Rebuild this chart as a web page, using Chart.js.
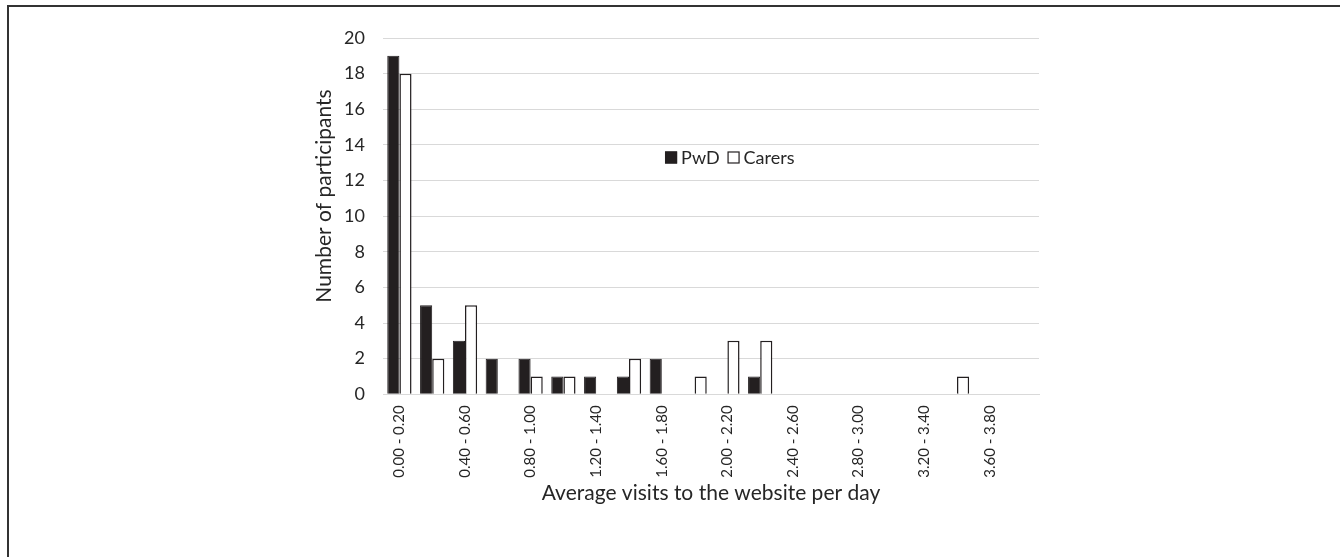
<!DOCTYPE html>
<html lang="en">
<head>
    <meta charset="UTF-8">
    <title>Average visits to the website per day</title>
    <script src="https://cdn.jsdelivr.net/npm/chart.js"></script>
    <style>
        body {
            margin: 0;
            background: #fff;
            overflow: hidden;
        }
        #frame {
            position: absolute;
            left: 7px;
            top: 5px;
            width: 1400px;
            height: 600px;
            border-top: 2px solid #333;
            border-left: 2px solid #333;
        }
        #wrap {
            position: absolute;
            left: 0;
            top: 0;
            width: 1340px;
            height: 557px;
        }
    </style>
</head>
<body>
    <div id="frame"></div>
    <div id="wrap"><canvas id="visitsChart" width="1340" height="557"></canvas></div>

    <script>
        const binLabels = ['0.00 - 0.20', '0.20 - 0.40', '0.40 - 0.60', '0.60 - 0.80', '0.80 - 1.00',
                           '1.00 - 1.20', '1.20 - 1.40', '1.40 - 1.60', '1.60 - 1.80', '1.80 - 2.00',
                           '2.00 - 2.20', '2.20 - 2.40', '2.40 - 2.60', '2.60 - 2.80', '2.80 - 3.00',
                           '3.00 - 3.20', '3.20 - 3.40', '3.40 - 3.60', '3.60 - 3.80', '3.80 - 4.00'];
        const pwdCounts    = [19, 5, 3, 2, 2, 1, 1, 1, 2, 0, 0, 1, 0, 0, 0, 0, 0, 0, 0, 0];
        const carerCounts  = [18, 2, 5, 0, 1, 1, 0, 2, 0, 1, 3, 3, 0, 0, 0, 0, 0, 1, 0, 0];
        const yTicks = [0, 2, 4, 6, 8, 10, 12, 14, 16, 18, 20];
        const yTitle = 'Number of participants';

        const fontFamily = 'Lato, "Open Sans", sans-serif';
        const textColor = '#262626';

        // legend sits inside the plot area, like the original spreadsheet chart
        const innerLegend = {
            id: 'innerLegend',
            afterDraw(chart) {
                const ctx = chart.ctx;
                const area = chart.chartArea;
                let x = area.left + (area.right - area.left) * 0.43;
                const y = area.top + (area.bottom - area.top) * 0.334;
                ctx.save();
                ctx.font = '18px ' + fontFamily;
                ctx.textBaseline = 'middle';
                chart.data.datasets.forEach(ds => {
                    ctx.fillStyle = ds.backgroundColor;
                    ctx.strokeStyle = ds.borderColor;
                    ctx.lineWidth = 1.2;
                    ctx.fillRect(x, y - 5.5, 12, 12);
                    ctx.strokeRect(x + 0.5, y - 5, 11, 11);
                    ctx.fillStyle = textColor;
                    ctx.fillText(ds.label, x + 16, y + 1);
                    x += 16 + ctx.measureText(ds.label).width + 8;
                });
                ctx.restore();
            }
        };

        // y title drawn by hand: the original sits a little above the plot's middle
        const yAxisTitle = {
            id: 'yAxisTitle',
            afterDraw(chart) {
                const ctx = chart.ctx;
                ctx.save();
                ctx.translate(324, 196);
                ctx.rotate(-Math.PI / 2);
                ctx.font = '21px ' + fontFamily;
                ctx.fillStyle = textColor;
                ctx.textAlign = 'center';
                ctx.textBaseline = 'middle';
                ctx.fillText(yTitle, 0, 0);
                ctx.restore();
            }
        };

        const ctx = document.getElementById('visitsChart').getContext('2d');
        new Chart(ctx, {
            type: 'bar',
            data: {
                labels: binLabels,
                datasets: [
                    {
                        label: 'PwD',
                        data: pwdCounts,
                        backgroundColor: '#231f20',
                        borderColor: '#231f20',
                        borderWidth: 1
                    },
                    {
                        label: 'Carers',
                        data: carerCounts,
                        backgroundColor: '#ffffff',
                        borderColor: '#231f20',
                        borderWidth: 1.5
                    }
                ]
            },
            options: {
                responsive: false,
                animation: false,
                layout: {
                    padding: { left: 313, right: 301, top: 38, bottom: 47 }
                },
                datasets: {
                    bar: {
                        barPercentage: 1,
                        categoryPercentage: 0.74
                    }
                },
                plugins: {
                    legend: { display: false },
                    tooltip: { enabled: false }
                },
                scales: {
                    x: {
                        grid: { display: false },
                        border: { color: '#d9d9d9', width: 1 },
                        ticks: {
                            autoSkip: false,
                            minRotation: 90,
                            maxRotation: 90,
                            color: textColor,
                            font: { family: fontFamily, size: 15 },
                            callback: function (value, index) {
                                return index % 2 === 0 ? this.getLabelForValue(value) : '';
                            }
                        },
                        title: {
                            display: true,
                            text: 'Average visits to the website per day',
                            color: textColor,
                            font: { family: fontFamily, size: 21 },
                            padding: { top: 0 }
                        }
                    },
                    y: {
                        min: 0,
                        max: 20,
                        afterBuildTicks: axis => {
                            axis.ticks = yTicks.map(v => ({ value: v }));
                        },
                        afterFit: axis => {
                            axis.width = 70;
                        },
                        grid: {
                            color: '#d9d9d9',
                            lineWidth: 1,
                            drawTicks: false
                        },
                        border: { display: false },
                        ticks: {
                            padding: 18,
                            color: textColor,
                            font: { family: fontFamily, size: 18 }
                        }
                    }
                }
            },
            plugins: [innerLegend, yAxisTitle]
        });
    </script>
</body>
</html>
